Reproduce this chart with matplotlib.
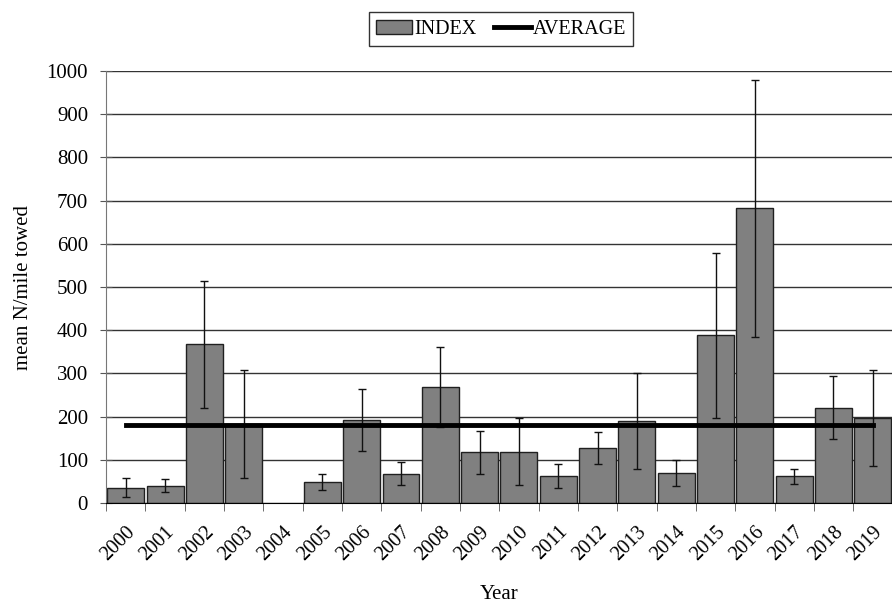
import numpy as np
import matplotlib.pyplot as plt

plt.rcParams['font.family'] = ['Liberation Serif', 'DejaVu Serif']

years = [str(y) for y in range(2000, 2020)]
index = [35, 40, 367, 183, np.nan, 48, 192, 68, 269, 117,
         119, 63, 128, 190, 69, 388, 682, 62, 221, 197]
err = [22, 15, 147, 126, np.nan, 18, 72, 26, 92, 50,
       78, 28, 37, 112, 30, 191, 298, 17, 73, 111]
average = 181

fig = plt.figure(figsize=(8.92, 6.05), dpi=100)
ax = fig.add_axes([0.119, 0.1686, 0.8815, 0.714])

x = np.arange(len(years))
bars = ax.bar(x, index, width=0.94, color='#808080', edgecolor='#202020',
              linewidth=1, label='INDEX', zorder=2)
ax.errorbar(x, index, yerr=err, fmt='none', ecolor='#111111',
            elinewidth=1, capsize=3, capthick=1, zorder=3)
avg_line, = ax.plot([x[0], x[-1]], [average, average], color='black',
                    linewidth=3.5, label='AVERAGE', zorder=4)

ax.set_xlim(-0.5, len(years) - 0.5)
ax.set_ylim(0, 1000)
ax.set_yticks(np.arange(0, 1001, 100))
ax.yaxis.grid(True, color='#333333', linewidth=1)
ax.set_axisbelow(True)

ax.set_xticks(x)
ax.set_xticklabels(years, rotation=45, ha='right', rotation_mode='anchor',
                   fontsize=14.5)
ax.tick_params(axis='x', length=0, pad=14)
ax.set_xticks(np.arange(-0.5, len(years), 1), minor=True)
ax.tick_params(axis='x', which='minor', length=6, color='#555555')
ax.tick_params(axis='y', labelsize=15, length=8, direction='inout',
               color='#555555', pad=9)

for s in ['top', 'right']:
    ax.spines[s].set_visible(False)
ax.spines['left'].set_color('#777777')
ax.spines['bottom'].set_color('black')

ax.set_xlabel('Year', fontsize=15, labelpad=15)
ax.set_ylabel('mean N/mile towed', fontsize=15, labelpad=10)

fig.legend(handles=[bars, avg_line], loc='upper center',
           bbox_to_anchor=(0.5615, 0.996), ncol=2,
           frameon=True, fancybox=False, edgecolor='black', fontsize=14.5,
           handlelength=1.8, handletextpad=0.1, columnspacing=0.9,
           borderpad=0.35)

fig.savefig('out.png', dpi=100)
